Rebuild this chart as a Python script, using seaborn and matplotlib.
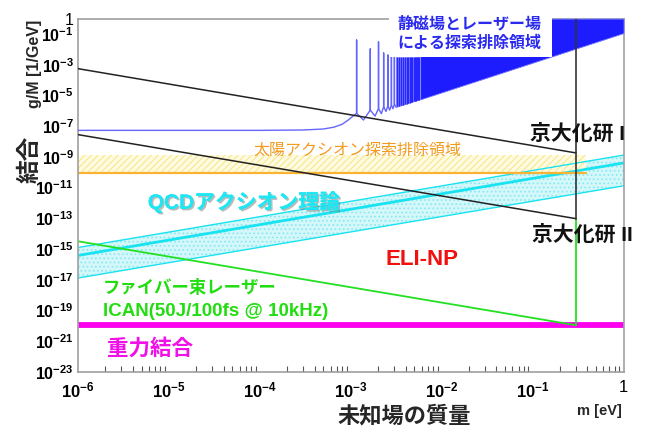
import matplotlib
matplotlib.use("Agg")
import matplotlib.pyplot as plt
import matplotlib.patheffects as pe
from matplotlib.patches import Rectangle
from matplotlib.ticker import FixedLocator, NullFormatter
import pandas as pd
import seaborn as sns

# ---------------- data (mass in eV, coupling g/M in 1/GeV) ----------------
x_limits = [1e-6, 1.0]
y_limits = [1e-23, 1.0]

kyoto1_m = [1e-6, 0.3]
kyoto1_g = [5.5e-4, 1.8e-9]
kyoto2_m = [1e-6, 0.3]
kyoto2_g = [2.8e-8, 9.5e-14]
kyoto_edge_m = [0.3, 0.3]
kyoto_edge_g = [1.0, 9.5e-14]

fiber_m = [1e-6, 0.3, 0.3]
fiber_g = [3.2e-15, 1.1e-20, 9.5e-14]

gravity_m = [1e-6, 1.0]
gravity_g = [1.15e-20, 1.15e-20]

solar_m = [1e-6, 0.39]
solar_hi = [1.3e-9, 1.3e-9]
solar_lo = [9.5e-11, 9.5e-11]

qcd_m = [1e-6, 1.0]
qcd_hi = [1.26e-15, 1.3e-9]
qcd_mid = [3.8e-16, 4.0e-10]
qcd_lo = [1.3e-17, 1.3e-11]

# static-field + laser search: smooth baseline, resonance spikes, dips between them
magnet_base_m = [1e-6, 1e-4, 3e-4, 5e-4, 6.5e-4, 8e-4, 9.3e-4, 1.06e-3]
magnet_base_g = [5.3e-8, 5.3e-8, 5.6e-8, 6.5e-8, 8.5e-8, 1.3e-7, 2.4e-7, 4.5e-7]
res_m = [1.16e-3, 1.64e-3, 2.02e-3, 2.30e-3, 2.56e-3, 2.80e-3, 3.02e-3]
res_top = [0.04, 0.0105, 0.03, 5.7e-3, 4.2e-3, 3.6e-3, 3.1e-3]
res_foot = [6.8e-7, 1.1e-6, 1.4e-6, 1.8e-6, 2.1e-6, 2.4e-6, 2.7e-6]
dip_m = [1.38e-3, 1.85e-3, 2.17e-3, 2.44e-3, 2.68e-3, 2.91e-3]
dip_g = [2.5e-7, 4.5e-7, 6.5e-7, 9.0e-7, 1.1e-6, 1.35e-6]
dense_m = [3.22e-3, 3.42e-3, 3.60e-3, 3.78e-3, 3.95e-3, 4.12e-3, 4.28e-3, 4.44e-3,
           4.60e-3, 4.75e-3, 4.90e-3, 5.05e-3, 5.20e-3, 5.35e-3, 5.50e-3, 5.65e-3]
dense_lo = [1.9e-6, 2.1e-6, 2.3e-6, 2.5e-6, 2.7e-6, 2.95e-6, 3.2e-6, 3.4e-6,
            3.65e-6, 3.9e-6, 4.1e-6, 4.35e-6, 4.6e-6, 4.85e-6, 5.1e-6, 5.4e-6]
dense_top = 3e-3
env_m = [3.15e-3, 5.8e-3, 1.0]
env_g = [1.7e-6, 5.5e-6, 0.115]

x_tick_vals = [1e-6, 1e-5, 1e-4, 1e-3, 1e-2, 1e-1, 1.0]
x_tick_text = [r"$10^{-6}$", r"$10^{-5}$", r"$10^{-4}$", r"$10^{-3}$",
               r"$10^{-2}$", r"$10^{-1}$", "1"]
y_tick_vals = [10.0 ** -k for k in range(0, 24)]
y_labeled = {0: "1", 1: r"$10^{-1}$"}
for k in range(3, 24, 2):
    y_labeled[k] = r"$10^{-%d}$" % k
y_tick_text = [y_labeled.get(k, "") for k in range(0, 24)]

# ---------------- style ----------------
sns.set_theme(style="white")
plt.rcParams["font.family"] = ["Liberation Sans", "Noto Sans CJK JP", "DejaVu Sans"]
plt.rcParams["mathtext.fontset"] = "custom"
plt.rcParams["mathtext.rm"] = "Liberation Sans:bold"
plt.rcParams["mathtext.it"] = "Liberation Sans:bold"
plt.rcParams["mathtext.bf"] = "Liberation Sans:bold"
plt.rcParams["mathtext.default"] = "rm"
plt.rcParams["hatch.linewidth"] = 0.7

fig = plt.figure(figsize=(6.55, 4.32), dpi=100)
ax = fig.add_axes([0.119, 0.139, 0.833, 0.818])
ax.set_xscale("log")
ax.set_yscale("log")
ax.set_xlim(*x_limits)
ax.set_ylim(*y_limits)


def line(m, g, color, lw, z):
    df = pd.DataFrame({"m": m, "g": g})
    sns.lineplot(data=df, x="m", y="g", sort=False, estimator=None,
                 color=color, lw=lw, ax=ax, zorder=z)


# QCD axion band
ax.fill_between(qcd_m, qcd_lo, qcd_hi, facecolor="#d4f7fa", edgecolor="none", zorder=1)
ax.fill_between(qcd_m, qcd_lo, qcd_hi, facecolor="none", edgecolor="#86e8f2",
                hatch="....", linewidth=0, zorder=1.1)
line(qcd_m, qcd_hi, "#19e3f0", 1.0, 1.5)
line(qcd_m, qcd_lo, "#19e3f0", 1.0, 1.5)
line(qcd_m, qcd_mid, "#19e3f0", 2.0, 1.5)

# solar axion exclusion band
ax.fill_between(solar_m, solar_lo, solar_hi, facecolor="#fffbe2", edgecolor="none", zorder=1.2)
ax.fill_between(solar_m, solar_lo, solar_hi, facecolor="none", edgecolor="#f6e680",
                hatch="/////", linewidth=0, zorder=1.3)
line(solar_m, solar_lo, "#f8b234", 1.6, 1.6)

# gravitational coupling
line(gravity_m, gravity_g, "#ff00ee", 4.2, 2)

# fiber-bundle laser (ICAN)
line(fiber_m, fiber_g, "#22e022", 1.3, 2.2)

# static field + laser
path_m = list(magnet_base_m)
path_g = list(magnet_base_g)
for k in range(len(res_m)):
    path_m += [res_m[k], res_m[k], res_m[k]]
    path_g += [res_foot[k], res_top[k], res_foot[k]]
    if k < len(dip_m):
        path_m.append(dip_m[k])
        path_g.append(dip_g[k])
path_m += env_m
path_g += env_g
line(path_m, path_g, "#6464ff", 1.0, 3)
ax.fill_between(env_m[:2], env_g[:2], dense_top, facecolor="#8c8cff",
                edgecolor="none", zorder=3)
ax.vlines(dense_m, dense_lo, dense_top, colors="#2626ff", lw=1.0, zorder=3.1)
ax.fill_between(env_m[1:], env_g[1:], 1.0, facecolor="#1c1cff",
                edgecolor="#8080ff", lw=0.6, zorder=3.2, clip_on=False)

# Kyoto limits
line(kyoto1_m, kyoto1_g, "#222222", 1.1, 4)
line(kyoto2_m, kyoto2_g, "#222222", 1.1, 4)
line(kyoto_edge_m, kyoto_edge_g, "#333333", 1.2, 4)

# ---------------- axes ----------------
for s in ax.spines.values():
    s.set_color("#a0a0a0")
    s.set_linewidth(1.2)
ax.xaxis.set_major_locator(FixedLocator(x_tick_vals))
ax.set_xticklabels(x_tick_text)
ax.yaxis.set_major_locator(FixedLocator(y_tick_vals))
ax.set_yticklabels(y_tick_text)
ax.yaxis.set_minor_formatter(NullFormatter())
ax.yaxis.set_minor_locator(FixedLocator([]))
ax.tick_params(axis="both", which="both", direction="in", colors="#555555",
               labelcolor="black", top=False, right=False)
ax.tick_params(axis="x", which="major", length=9, width=1.0, labelsize=12, pad=6)
ax.tick_params(axis="x", which="minor", length=4.5, width=0.8, bottom=True)
ax.tick_params(axis="y", which="major", length=8, width=1.0, labelsize=11.5, pad=3)
ax.set_xlabel("")
ax.set_ylabel("")

# ---------------- labels ----------------
ax.add_patch(Rectangle((0.571, 0.891), 0.297, 0.12, transform=ax.transAxes,
                       facecolor="white", edgecolor="none", zorder=5, clip_on=False))
ax.text(0.585, 0.986, "静磁場とレーザー場", transform=ax.transAxes, color="#2b2bf0",
        fontsize=11.5, fontweight="bold", ha="left", va="center", zorder=6)
ax.text(0.585, 0.929, "による探索排除領域", transform=ax.transAxes, color="#2b2bf0",
        fontsize=11.5, fontweight="bold", ha="left", va="center", zorder=6)
ax.text(0.321, 0.628, "太陽アクシオン探索排除領域", transform=ax.transAxes,
        color="#f29a1c", fontsize=11.5, ha="left", va="center", zorder=6)
ax.text(0.128, 0.481, "QCDアクシオン理論", transform=ax.transAxes, color="#1ee6f2",
        fontsize=15, fontweight="bold", ha="left", va="center", zorder=6,
        path_effects=[pe.withSimplePatchShadow(offset=(1.2, -1.2), shadow_rgbFace="#777777",
                                               alpha=0.5), pe.Normal()])
ax.text(0.563, 0.317, "ELI-NP", transform=ax.transAxes, color="#f01010",
        fontsize=16, fontweight="bold", ha="left", va="center", zorder=6)
ax.text(0.046, 0.240, "ファイバー束レーザー", transform=ax.transAxes, color="#22dd10",
        fontsize=12.5, fontweight="bold", ha="left", va="center", zorder=6)
ax.text(0.046, 0.170, "ICAN(50J/100fs @ 10kHz)", transform=ax.transAxes, color="#22dd10",
        fontsize=13.5, fontweight="bold", ha="left", va="center", zorder=6)
ax.text(0.053, 0.065, "重力結合", transform=ax.transAxes, color="#f010e8",
        fontsize=15.5, fontweight="bold", ha="left", va="center", zorder=6)
ax.text(0.829, 0.673, "京大化研 I", transform=ax.transAxes, color="#111111",
        fontsize=15, fontweight="semibold", ha="left", va="center", zorder=6)
ax.text(0.832, 0.388, "京大化研 II", transform=ax.transAxes, color="#111111",
        fontsize=15, fontweight="semibold", ha="left", va="center", zorder=6)

fig.text(0.053, 0.852, "g/M [1/GeV]", rotation=90, ha="center", va="center",
         fontsize=11.5, fontweight="bold")
fig.text(0.046, 0.630, "結合", rotation=90, ha="center", va="center",
         fontsize=17, fontweight="bold")
fig.text(0.617, 0.037, "未知場の質量", ha="center", va="center",
         fontsize=16, fontweight="bold")
fig.text(0.950, 0.049, "m [eV]", ha="right", va="center",
         fontsize=10.5, fontweight="bold")

fig.savefig("out.png", dpi=100)
